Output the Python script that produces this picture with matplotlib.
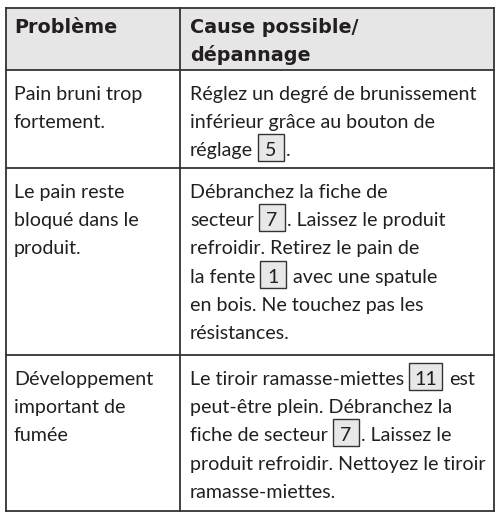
import matplotlib
matplotlib.use('Agg')
import matplotlib.pyplot as plt
from matplotlib.patches import Rectangle

# Table content
headers = ["Problème", "Cause possible/\ndépannage"]
problems = [
    ["Pain bruni trop", "fortement."],
    ["Le pain reste", "bloqué dans le", "produit."],
    ["Développement", "important de", "fumée"],
]
# [n] marks a boxed reference number
causes = [
    ["Réglez un degré de brunissement", "inférieur grâce au bouton de", "réglage [5]."],
    ["Débranchez la fiche de", "secteur [7]. Laissez le produit", "refroidir. Retirez le pain de",
     "la fente [1] avec une spatule", "en bois. Ne touchez pas les", "résistances."],
    ["Le tiroir ramasse-miettes [11] est", "peut-être plein. Débranchez la",
     "fiche de secteur [7]. Laissez le", "produit refroidir. Nettoyez le tiroir",
     "ramasse-miettes."],
]

# Layout (pixels)
W, H = 495, 512
left, mid, right = 6, 180, 494
row_lines = [8, 70, 168, 355, 511]
pad_x = 8
first_base = 30
line_gap = 28.2
text_color = '#231f20'
line_color = '#333333'
font = 'Lato'
fs = 14.1
head_font = 'DejaVu Sans'
head_fs = 13.8

fig = plt.figure(figsize=(W / 100, H / 100), dpi=100)
ax = fig.add_axes([0, 0, 1, 1])
ax.set_xlim(0, W)
ax.set_ylim(H, 0)
ax.axis('off')
renderer = fig.canvas.get_renderer()

# header background
ax.add_patch(Rectangle((left, row_lines[0]), right - left, row_lines[1] - row_lines[0],
                       facecolor='#e6e6e6', edgecolor='none', zorder=0))

# grid lines
for y in row_lines:
    ax.plot([left, right], [y, y], color=line_color, lw=1.3, solid_capstyle='projecting')
for x in (left, mid, right):
    ax.plot([x, x], [row_lines[0], row_lines[-1]], color=line_color, lw=1.3,
            solid_capstyle='projecting')


def text_width(s, **kw):
    t = ax.text(0, 0, s, fontsize=fs, family=font, **kw)
    w = t.get_window_extent(renderer).width
    t.remove()
    return w


space_w = text_width("a a") - text_width("aa")


def draw_line(x, y, s):
    parts = s.replace(']', '[').split('[')
    for i, p in enumerate(parts):
        if p == '':
            continue
        if i % 2 == 0:
            lead = len(p) - len(p.lstrip(' '))
            trail = len(p) - len(p.rstrip(' '))
            x += lead * space_w
            core = p.strip(' ')
            ax.text(x, y, core, fontsize=fs, family=font, color=text_color, va='baseline')
            x += text_width(core) + trail * space_w
        else:
            w = max(26, text_width(p) + 10)
            ax.add_patch(Rectangle((x, y - 22), w, 27, facecolor='#e8e8e8',
                                   edgecolor=line_color, lw=1.0))
            ax.text(x + w / 2, y, p, fontsize=fs, family=font, color=text_color,
                    va='baseline', ha='center')
            x += w + 2


# header text
for col_x, h in zip((left + pad_x, mid + 10), headers):
    for k, line in enumerate(h.split('\n')):
        ax.text(col_x, row_lines[0] + 25 + k * line_gap, line, fontsize=head_fs,
                family=head_font, weight='bold', color=text_color, va='baseline')

# body
for r in range(len(problems)):
    top = row_lines[r + 1]
    for k, line in enumerate(problems[r]):
        draw_line(left + pad_x, top + first_base + k * line_gap, line)
    for k, line in enumerate(causes[r]):
        draw_line(mid + 10, top + first_base + k * line_gap, line)

fig.savefig('out.png', dpi=100, facecolor='white')
